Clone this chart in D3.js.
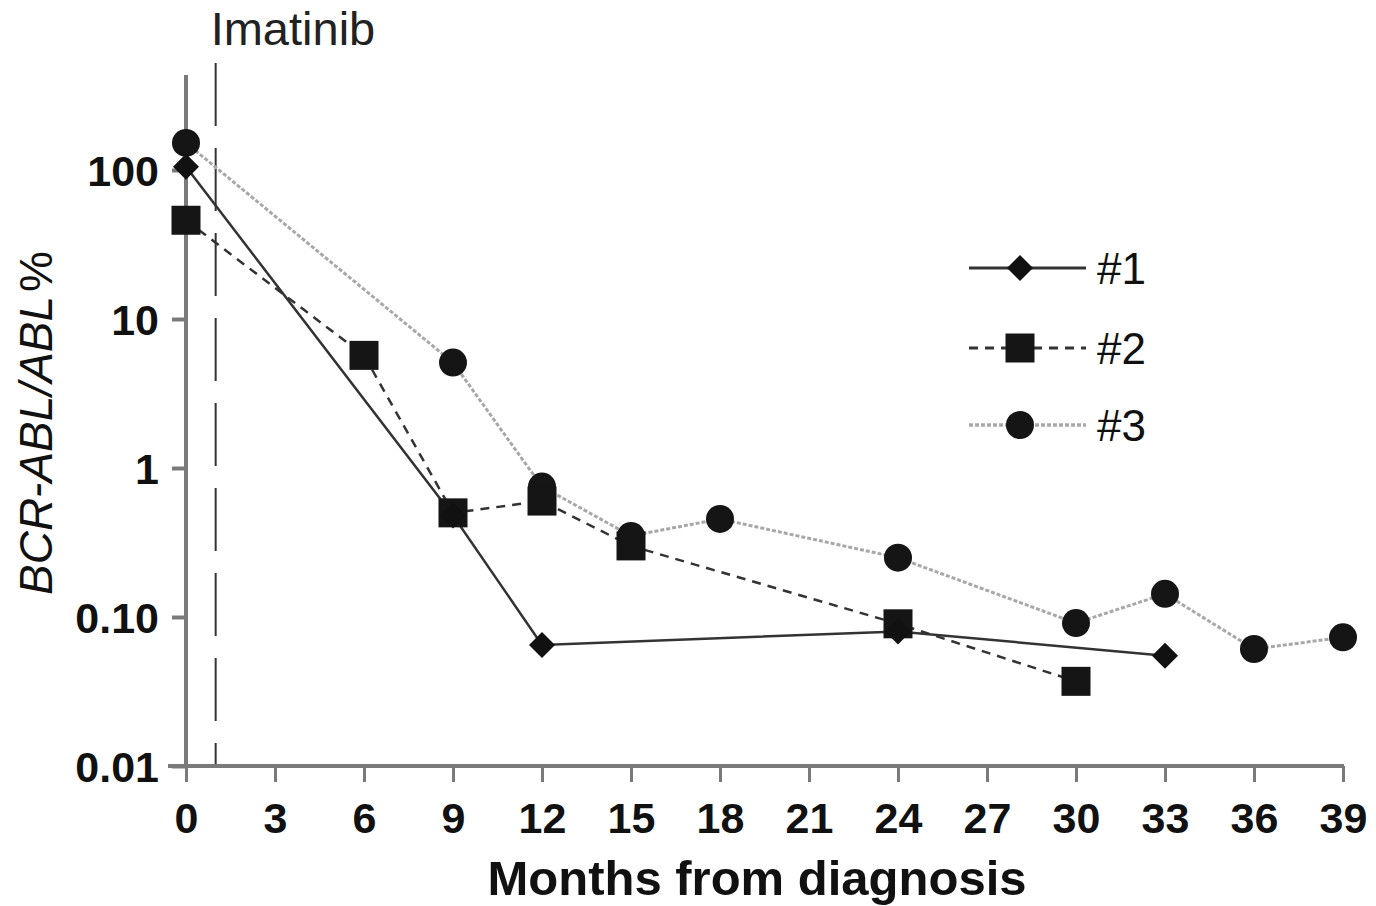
<!DOCTYPE html>
<html>
<head>
<meta charset="utf-8">
<script src="https://cdn.jsdelivr.net/npm/d3@7"></script>
<style>
  html, body { margin: 0; padding: 0; background: #fff; }
  svg { display: block; font-family: "Liberation Sans", Arial, sans-serif; }
</style>
</head>
<body>
<svg id="chart" width="1376" height="906"></svg>
<script>
// Months from diagnosis for each patient, with BCR-ABL/ABL % (log scale)
const months1 = [0, 9, 12, 24, 33];
const values1 = [105, 0.48, 0.065, 0.08, 0.055];

const months2 = [0, 6, 9, 12, 15, 24, 30];
const values2 = [46, 5.7, 0.5, 0.6, 0.3, 0.09, 0.037];

const months3 = [0, 9, 12, 15, 18, 24, 30, 33, 36, 39];
const values3 = [152, 5.1, 0.75, 0.35, 0.455, 0.25, 0.091, 0.143, 0.061, 0.073];

const xTicks = [0, 3, 6, 9, 12, 15, 18, 21, 24, 27, 30, 33, 36, 39];
const yTicks = [100, 10, 1, 0.1, 0.01];
const yTickLabels = ["100", "10", "1", "0.10", "0.01"];
const seriesNames = ["#1", "#2", "#3"];
const imatinibStart = 1;

const svg = d3.select("#chart");

const x = d3.scaleLinear().domain([0, 39]).range([186, 1343]);
const y = d3.scaleLog().domain([0.01, 100]).range([766, 170]);

const axisColor = "#7a7a7a";
const fontFamily = "Liberation Sans, Arial, sans-serif";

// Imatinib start marker
svg.append("line")
  .attr("x1", x(imatinibStart)).attr("x2", x(imatinibStart))
  .attr("y1", 63).attr("y2", 766)
  .attr("stroke", "#333").attr("stroke-width", 2)
  .attr("stroke-dasharray", "63,22");
svg.append("text")
  .attr("x", x(imatinibStart) - 5).attr("y", 45)
  .attr("font-size", 47).attr("fill", "#222")
  .text("Imatinib");

// Y axis
const yAxis = d3.axisLeft(y).tickValues(yTicks)
  .tickFormat((d, i) => yTickLabels[i]).tickSize(14).tickPadding(13);
const gy = svg.append("g").attr("transform", `translate(${x(0)},0)`).call(yAxis);
gy.select(".domain").remove();
gy.append("line").attr("x1", 0).attr("x2", 0).attr("y1", 75).attr("y2", 768)
  .attr("stroke", axisColor).attr("stroke-width", 4);
gy.selectAll(".tick line").attr("stroke", axisColor).attr("stroke-width", 4);
gy.selectAll(".tick text").attr("font-size", 43).attr("font-weight", "bold")
  .attr("fill", "#111").attr("font-family", fontFamily)
  .attr("dy", "0.36em");

// X axis
const xAxis = d3.axisBottom(x).tickValues(xTicks).tickSize(16).tickPadding(20);
const gx = svg.append("g").attr("transform", `translate(0,${y(0.01)})`).call(xAxis);
gx.select(".domain").remove();
gx.append("line").attr("x1", 168).attr("x2", x(39) + 1).attr("y1", 0).attr("y2", 0)
  .attr("stroke", axisColor).attr("stroke-width", 4);
gx.selectAll(".tick line").attr("stroke", axisColor).attr("stroke-width", 3);
gx.selectAll(".tick text").attr("font-size", 43).attr("font-weight", "bold")
  .attr("fill", "#111").attr("font-family", fontFamily);

// Axis titles
svg.append("text")
  .attr("x", 757).attr("y", 895)
  .attr("text-anchor", "middle").attr("font-size", 49).attr("font-weight", "bold")
  .attr("fill", "#111")
  .text("Months from diagnosis");

const yTitle = svg.append("text")
  .attr("transform", "translate(52,423) rotate(-90)")
  .attr("text-anchor", "middle").attr("font-size", 46).attr("fill", "#111");
yTitle.append("tspan").attr("font-style", "italic").text("BCR-ABL/ABL");
yTitle.append("tspan").attr("dx", 4).text("%");

// Series styles
const series = [
  { name: seriesNames[0], months: months1, values: values1, color: "#333", width: 2.5, dash: null, shape: "diamond" },
  { name: seriesNames[1], months: months2, values: values2, color: "#333", width: 2.5, dash: "9,7", shape: "square" },
  { name: seriesNames[2], months: months3, values: values3, color: "#a8a8a8", width: 3, dash: "4,2", shape: "circle" }
];

const lineGen = d3.line().x(d => x(d[0])).y(d => y(d[1]));

function drawMarker(g, shape, cx, cy) {
  if (shape === "diamond") {
    const r = 13;
    g.append("path")
      .attr("d", `M${cx},${cy - r}L${cx + r},${cy}L${cx},${cy + r}L${cx - r},${cy}Z`)
      .attr("fill", "#111");
  } else if (shape === "square") {
    const s = 29;
    g.append("rect").attr("x", cx - s / 2).attr("y", cy - s / 2)
      .attr("width", s).attr("height", s).attr("fill", "#151515");
  } else {
    g.append("circle").attr("cx", cx).attr("cy", cy).attr("r", 14)
      .attr("fill", "#151515");
  }
}

// Lines first, then markers on top
series.forEach(s => {
  const pts = s.months.map((m, i) => [m, s.values[i]]);
  svg.append("path").datum(pts).attr("d", lineGen)
    .attr("fill", "none").attr("stroke", s.color).attr("stroke-width", s.width)
    .attr("stroke-dasharray", s.dash);
});
const markerLayer = svg.append("g");
[series[2], series[1], series[0]].forEach(s => {
  s.months.forEach((m, i) => drawMarker(markerLayer, s.shape, x(m), y(s.values[i])));
});

// Legend
const legendY = [268, 348, 425];
series.forEach((s, i) => {
  const ly = legendY[i];
  svg.append("line").attr("x1", 969).attr("x2", 1086).attr("y1", ly).attr("y2", ly)
    .attr("stroke", s.color).attr("stroke-width", s.width + 0.5)
    .attr("stroke-dasharray", s.dash);
  drawMarker(svg, s.shape, 1020, ly);
  svg.append("text").attr("x", 1097).attr("y", ly).attr("dy", "0.36em")
    .attr("font-size", 44).attr("fill", "#111").text(s.name);
});
</script>
</body>
</html>
